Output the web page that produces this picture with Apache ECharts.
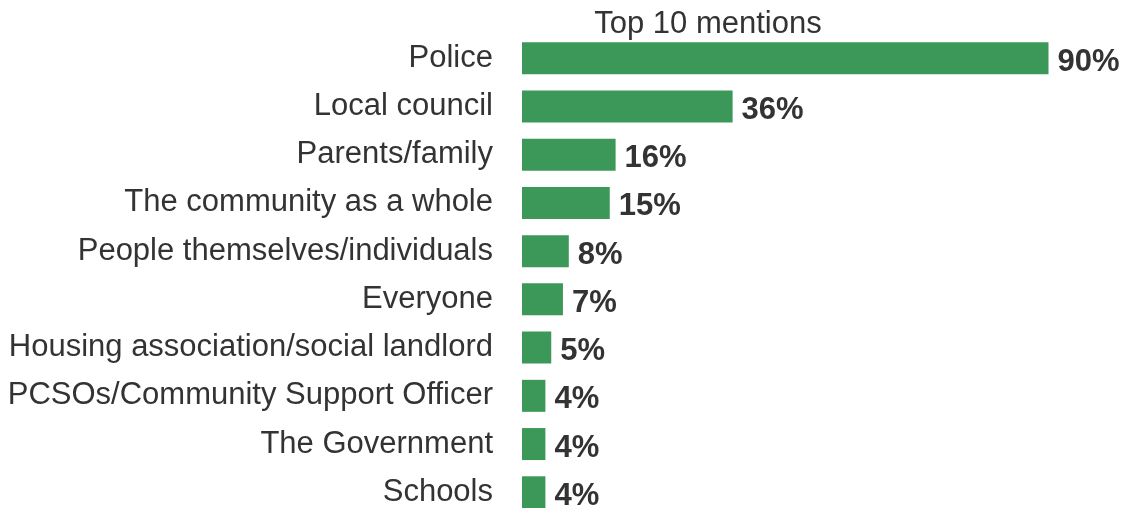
<!DOCTYPE html>
<html>
<head>
<meta charset="utf-8">
<script src="https://cdn.jsdelivr.net/npm/echarts@6/dist/echarts.min.js"></script>
<style>
html, body { margin: 0; padding: 0; background: #fff; }
#chart { width: 1125px; height: 508px; }
</style>
</head>
<body>
<div id="chart"></div>
<script>
// top 10 mentions, listed top to bottom
var categories = ["Police", "Local council", "Parents/family", "The community as a whole",
	"People themselves/individuals", "Everyone", "Housing association/social landlord",
	"PCSOs/Community Support Officer", "The Government", "Schools"];
var values = [90, 36, 16, 15, 8, 7, 5, 4, 4, 4];
var titleText = "Top 10 mentions";

var fontName = "Liberation Sans, Arial, sans-serif";

var myChart = echarts.init(document.getElementById("chart"));
var option = {
	animation: false,
	backgroundColor: "#fff",
	title: {
		text: titleText,
		left: 703,
		top: 4,
		textAlign: "center",
		textStyle: {
			fontFamily: fontName,
			fontSize: 31,
			fontWeight: "normal",
			color: "#333"
		}
	},
	grid: {
		left: 522,
		top: 34.1,
		width: 585,
		height: 482.3,
		outerBoundsMode: "none"
	},
	xAxis: {
		type: "value",
		min: 0,
		max: 100,
		show: false
	},
	yAxis: {
		type: "category",
		inverse: true,
		data: categories,
		axisLine: { show: false },
		axisTick: { show: false },
		splitLine: { show: false },
		axisLabel: {
			margin: 29,
			fontFamily: fontName,
			fontSize: 31,
			color: "#333"
		}
	},
	series: [{
		type: "bar",
		data: values,
		barWidth: 32,
		itemStyle: { color: "#3c9858" },
		label: {
			show: true,
			position: "right",
			distance: 9,
			offset: [0, 4],
			formatter: "{c}%",
			fontFamily: fontName,
			fontSize: 31,
			fontWeight: "bold",
			color: "#333"
		}
	}]
};
myChart.setOption(option);
</script>
</body>
</html>
